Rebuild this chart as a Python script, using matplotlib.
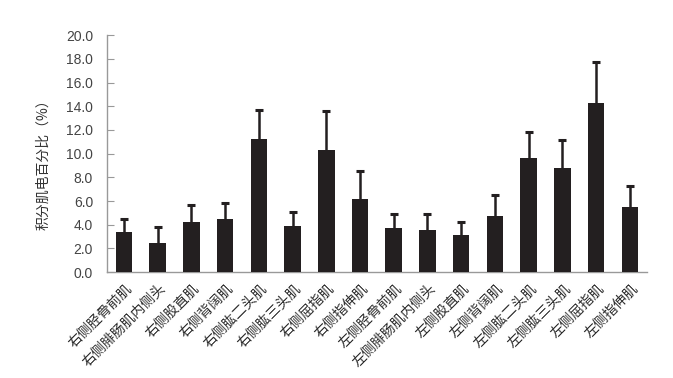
import matplotlib.pyplot as plt
import matplotlib.transforms as mtransforms
import numpy as np

plt.rcParams['font.family'] = ['Noto Sans CJK SC', 'DejaVu Sans']

# muscle names
labels = ["右侧胫骨前肌", "右侧腓肠肌内侧头", "右侧股直肌", "右侧背阔肌",
          "右侧肱二头肌", "右侧肱三头肌", "右侧屈指肌", "右侧指伸肌",
          "左侧胫骨前肌", "左侧腓肠肌内侧头", "左侧股直肌", "左侧背阔肌",
          "左侧肱二头肌", "左侧肱三头肌", "左侧屈指肌", "左侧指伸肌"]

# mean iEMG percentage and SD
means = [3.35, 2.5, 4.2, 4.47, 11.25, 3.9, 10.27, 6.16,
         3.7, 3.57, 3.15, 4.75, 9.6, 8.83, 14.3, 5.46]
sds = [1.12, 1.3, 1.48, 1.33, 2.42, 1.15, 3.33, 2.36,
       1.18, 1.35, 1.1, 1.75, 2.2, 2.31, 3.41, 1.77]

fig = plt.figure(figsize=(6.73, 3.78), dpi=100)
ax = fig.add_axes([0.159, 0.280, 0.802, 0.627])

x = np.arange(len(labels))
means = np.array(means)
sds = np.array(sds)
ax.bar(x, means, width=0.49, color='#231f20', zorder=3)
# upper error bars only
ax.vlines(x, means, means + sds, color='#231f20', linewidth=1.8, zorder=2)
ax.plot(x, means + sds, linestyle='none', marker='_', markersize=6,
        markeredgewidth=2.2, color='#231f20', zorder=2)

ax.set_xlim(-0.5, 15.5)
ax.set_ylim(0, 20)
ticks = np.arange(0, 20.1, 2)
ax.set_yticks(ticks)
ax.set_yticklabels([f"{v:.1f}" for v in ticks],
                   family='Liberation Sans', fontsize=10, color='#444444')
ax.tick_params(axis='y', direction='in', length=5, color='#999999', pad=10)
ax.set_xticks(x)
ax.set_xticklabels(labels, rotation=45, ha='right', va='center',
                   rotation_mode='anchor', fontsize=10, color='#2a2a2a')
ax.tick_params(axis='x', length=0, pad=10)
shift = mtransforms.ScaledTranslation(0.06, 0, fig.dpi_scale_trans)
for lab in ax.get_xticklabels():
    lab.set_transform(lab.get_transform() + shift)

for s in ['top', 'right']:
    ax.spines[s].set_visible(False)
for s in ['left', 'bottom']:
    ax.spines[s].set_color('#999999')
    ax.spines[s].set_linewidth(1)

ax.set_ylabel("积分肌电百分比（%）", fontsize=10, color='#333333')
ax.yaxis.set_label_coords(-0.105, 0.47)

fig.savefig('out.png', dpi=100)
